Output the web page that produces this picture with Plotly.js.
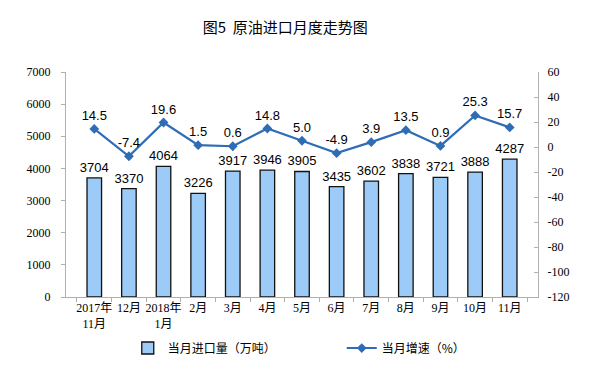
<!DOCTYPE html>
<html><head><meta charset="utf-8">
<script src="https://cdn.plot.ly/plotly-3.0.1.min.js"></script>
<style>body{margin:0;padding:0;background:#fff}#c{width:597px;height:372px}</style>
</head><body><div id="c"></div>
<script>
const categories = ["2017年<br>11月","12月","2018年<br>1月","2月","3月","4月","5月","6月","7月","8月","9月","10月","11月"];
const imports = [3704,3370,4064,3226,3917,3946,3905,3435,3602,3838,3721,3888,4287];
const growth = [14.5,-7.4,19.6,1.5,0.6,14.8,5.0,-4.9,3.9,13.5,0.9,25.3,15.7];
const growthLabels = ["14.5","-7.4","19.6","1.5","0.6","14.8","5.0","-4.9","3.9","13.5","0.9","25.3","15.7"];
const rightTickVals = [-120,-100,-80,-60,-40,-20,0,20,40,60];
const rightTickText = ["-120","-100","-80","-60","-40","-20","0","20","40","60"];

const serif = "Liberation Serif, Noto Sans CJK SC, serif";
const sans = "Liberation Sans, Arial, sans-serif";
const cjk = "Noto Sans CJK SC, sans-serif";

const traces = [
 {type:'bar', x:categories, y:imports, name:'当月进口量（万吨）',
  marker:{color:'#9DCBF7', line:{color:'#111', width:1.3}},
  width:0.42, text:imports.map(String), textposition:'outside', cliponaxis:false,
  constraintext:'none', textangle:0,
  textfont:{family:sans, size:13, color:'#000'}},
 {type:'scatter', mode:'lines+markers+text', x:categories, y:growth, yaxis:'y2', name:'当月增速（%）',
  line:{color:'#2E6DB5', width:2.2}, marker:{symbol:'diamond', size:7.5, color:'#2E6DB5'},
  text:growthLabels, textposition:'top center', cliponaxis:false,
  textfont:{family:sans, size:13, color:'#000'}}
];

const layout = {
 width:597, height:372,
 margin:{l:66, r:59, t:72, b:75},
 paper_bgcolor:'#fff', plot_bgcolor:'#fff',
 title:{text:'图5  原油进口月度走势图', x:0.478, xanchor:'center', y:0.925, yanchor:'middle',
   font:{family:cjk, size:15, color:'#000'}},
 showlegend:true,
 legend:{orientation:'h', xref:'container', yref:'container', x:0.214, y:0.0645, xanchor:'left', yanchor:'middle',
   font:{family:cjk, size:12, color:'#000'}, itemwidth:30, entrywidth:169, entrywidthmode:'pixels'},
 xaxis:{type:'category', showline:true, linecolor:'#b0b0b0', linewidth:1, automargin:false, tickangle:0,
   ticks:'outside', tickson:'boundaries', ticklen:4, tickcolor:'#b0b0b0',
   tickfont:{family:serif, size:12, color:'#000'}, showgrid:false, zeroline:false},
 yaxis:{range:[0,7000], dtick:1000, showline:true, linecolor:'#b0b0b0', linewidth:1, automargin:false,
   ticks:'outside', ticklen:4, tickcolor:'#b0b0b0', showgrid:false, zeroline:false,
   tickfont:{family:serif, size:12, color:'#000'}, ticklabelstandoff:8},
 yaxis2:{range:[-120,60], tickmode:'array', tickvals:rightTickVals, ticktext:rightTickText,
   overlaying:'y', side:'right', showline:true, automargin:false,
   linecolor:'#b0b0b0', linewidth:1, ticks:'inside', ticklen:4, tickcolor:'#b0b0b0',
   showgrid:false, zeroline:false, tickfont:{family:serif, size:12, color:'#000'}, ticklabelstandoff:6},
 bargap:0.58
};
Plotly.newPlot('c', traces, layout, {displayModeBar:false, staticPlot:true});
</script></body></html>
